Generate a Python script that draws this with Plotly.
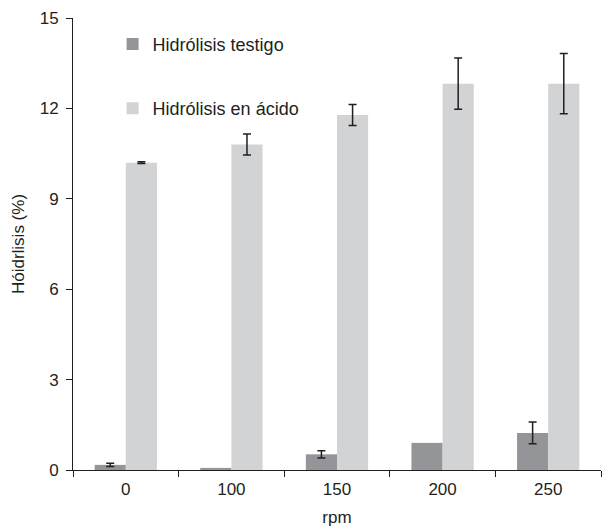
import plotly.graph_objects as go

categories = ["0", "100", "150", "200", "250"]
testigo = [0.17, 0.07, 0.52, 0.90, 1.23]
testigo_err = [0.05, "NaN", 0.12, "NaN", 0.36]  # no error bar drawn where NaN
acido = [10.2, 10.8, 11.78, 12.82, 12.82]
acido_err = [0.03, 0.35, 0.35, 0.85, 1.0]
y_ticks = [0, 3, 6, 9, 12, 15]

ink = "#231f20"
font = "Liberation Sans, Arial, sans-serif"

fig = go.Figure()
fig.add_trace(go.Bar(
    x=categories, y=testigo, name="Hidrólisis testigo",
    marker=dict(color="#939598", line=dict(width=0)),
    error_y=dict(type="data", array=testigo_err, color=ink, thickness=1.5, width=4),
    legendgroup="a",
))
fig.add_trace(go.Bar(
    x=categories, y=acido, name="Hidrólisis en ácido",
    marker=dict(color="#d1d3d4", line=dict(width=0)),
    error_y=dict(type="data", array=acido_err, color=ink, thickness=1.5, width=4),
    legendgroup="b",
))

fig.update_layout(
    width=610, height=532,
    margin=dict(l=73, r=9, t=17, b=61),
    paper_bgcolor="white", plot_bgcolor="white",
    font=dict(family=font, size=17, color=ink),
    barmode="group", bargap=0.41, bargroupgap=0,
    legend=dict(x=0.075, y=0.983, xanchor="left", yanchor="top",
                bgcolor="rgba(0,0,0,0)", tracegroupgap=38,
                font=dict(size=18, color=ink), itemwidth=30),
    showlegend=True,
)
fig.update_xaxes(
    type="category", showline=True, linecolor=ink, linewidth=1,
    ticks="outside", tickson="boundaries", ticklen=6, tickcolor=ink,
    showgrid=False, zeroline=False,
    title=dict(text="rpm", font=dict(size=17), standoff=12),
    tickfont=dict(size=17), ticklabelstandoff=4,
)
fig.update_yaxes(
    range=[0, 15], tickvals=y_ticks, showline=True, linecolor=ink, linewidth=1,
    ticks="outside", ticklen=6, tickcolor=ink, showgrid=False, zeroline=False,
    title=dict(text="Hóidrlisis (%)", font=dict(size=17), standoff=10),
    tickfont=dict(size=17), ticklabelstandoff=4,
)
fig.write_html("out.html")
